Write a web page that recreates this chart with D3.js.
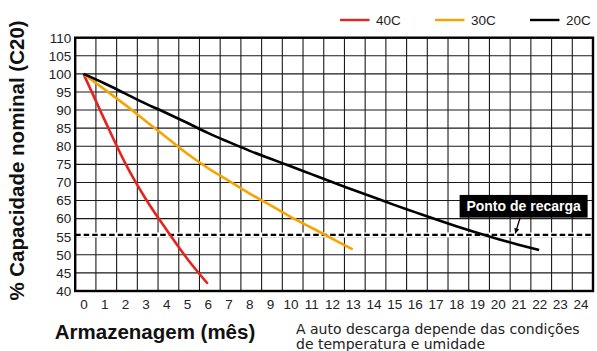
<!DOCTYPE html>
<html><head><meta charset="utf-8">
<script src="https://cdn.jsdelivr.net/npm/d3@7"></script>
<style>
html,body{margin:0;padding:0;background:#fff;}
svg{display:block;}
</style></head>
<body>
<svg id="chart" width="597" height="351"></svg>
<script>
// ---- data ----
const months = d3.range(0, 25);                 // x tick labels 0..24
const yTicks = d3.range(40, 111, 5);            // 40..110
const series = ["40C", "30C", "20C"];
const colors = ["#e52420", "#f8a300", "#000000"];
const months40 = [0, 1, 2, 3, 4, 5, 6];
const values40 = [100, 87.5, 75.5, 65.5, 57, 49, 42];
const months30 = [0, 1, 2, 3, 4, 5, 6, 7, 8, 9, 10, 11, 12, 13];
const values30 = [100, 95.8, 91.5, 87, 82.5, 78, 74, 70.5, 67, 63.8, 60.5, 57.5, 54.5, 51.5];
const months20 = [0, 1, 2, 3, 4, 5, 6, 7, 8, 9, 10, 11, 12, 13, 14, 15, 16, 17, 18, 19, 20, 21, 22];
const values20 = [100, 97.4, 94.6, 91.8, 89.2, 86.5, 83.7, 81.2, 78.8, 76.6, 74.5, 72.3, 70.1, 68.0, 65.9, 63.8, 61.8, 59.8, 57.9, 56.1, 54.4, 52.8, 51.3];
const rechargeLevel = 55.5;
const rechargeLabel = "Ponto de recarga";
const yTitle = "% Capacidade nominal (C20)";
const xTitle = "Armazenagem (mês)";
const noteLines = ["A auto descarga depende das condições", "de temperatura e umidade"];

// ---- layout ----
const svg = d3.select("#chart");
const L = 75.2, R = 593, T = 37.7, B = 291;
const x = d3.scaleLinear().domain([-0.4, 24.6]).range([L, R]);
const y = d3.scaleLinear().domain([40, 110]).range([B, T]);
const FONT = "'Liberation Sans', Arial, sans-serif";

// grid
const g = svg.append("g");
g.selectAll("line.v").data(d3.range(0, 26)).join("line")
  .attr("x1", k => x(-0.4 + k)).attr("x2", k => x(-0.4 + k))
  .attr("y1", T).attr("y2", B).attr("stroke", "#1a1a1a").attr("stroke-width", 1.1);
g.selectAll("line.h").data(yTicks).join("line")
  .attr("x1", L).attr("x2", R).attr("y1", d => y(d)).attr("y2", d => y(d))
  .attr("stroke", "#1a1a1a").attr("stroke-width", 1.1);

// recharge dashed line
svg.append("line").attr("x1", L).attr("x2", R).attr("y1", y(rechargeLevel)).attr("y2", y(rechargeLevel))
  .attr("stroke", "#fff").attr("stroke-width", 5);
svg.append("line").attr("x1", L).attr("x2", R).attr("y1", y(rechargeLevel)).attr("y2", y(rechargeLevel))
  .attr("stroke", "#000").attr("stroke-width", 2.2).attr("stroke-dasharray", "5.5,3");

// curves
const line = d3.line().x(d => x(d[0])).y(d => y(d[1])).curve(d3.curveMonotoneX);
const data = [
  d3.zip(months40, values40),
  d3.zip(months30, values30),
  d3.zip(months20, values20)
];
svg.selectAll("path.s").data(data).join("path")
  .attr("d", line).attr("fill", "none")
  .attr("stroke", (d, i) => colors[i]).attr("stroke-width", 2.6)
  .attr("stroke-linecap", "butt").attr("stroke-linejoin", "round");

// frame
svg.append("rect").attr("x", L).attr("y", T).attr("width", R - L).attr("height", B - T)
  .attr("fill", "none").attr("stroke", "#000").attr("stroke-width", 2.4);

// axes labels
const xAxis = d3.axisBottom(x).tickValues(months).tickSize(0).tickPadding(8).tickFormat(d3.format("d"));
const xa = svg.append("g").attr("transform", `translate(0,${B})`).call(xAxis);
xa.select(".domain").remove();
xa.selectAll("text").attr("font-family", FONT).attr("font-size", 13.5).attr("fill", "#222");

const yAxis = d3.axisLeft(y).tickValues(yTicks).tickSize(0).tickPadding(4);
const ya = svg.append("g").attr("transform", `translate(${L},0)`).call(yAxis);
ya.select(".domain").remove();
ya.selectAll("text").attr("font-family", FONT).attr("font-size", 13.5).attr("fill", "#222");

// titles
svg.append("text").attr("transform", "translate(23.5,160.5) rotate(-90)")
  .attr("text-anchor", "middle").attr("font-family", FONT).attr("font-weight", "bold")
  .attr("font-size", 20.5).attr("fill", "#111").text(yTitle);
svg.append("text").attr("x", 155).attr("y", 339).attr("text-anchor", "middle")
  .attr("font-family", FONT).attr("font-weight", "bold").attr("font-size", 20.5).attr("fill", "#111").text(xTitle);

// note
svg.append("g").selectAll("text").data(noteLines).join("text")
  .attr("x", 296).attr("y", (d, i) => 334 + i * 14.6)
  .attr("font-family", "'DejaVu Sans', sans-serif").attr("font-size", 14).attr("fill", "#222")
  .text(d => d);

// legend
const legX = [340, 435, 530];
const leg = svg.append("g").selectAll("g").data(series).join("g")
  .attr("transform", (d, i) => `translate(${legX[i]},20)`);
leg.append("line").attr("x1", 0).attr("x2", 29.5).attr("y1", 0).attr("y2", 0)
  .attr("stroke", (d, i) => colors[i]).attr("stroke-width", 2.4);
leg.append("text").attr("x", 36).attr("y", 4.8).attr("font-family", FONT).attr("font-size", 13.5)
  .attr("fill", "#222").text(d => d);

// recharge annotation
const boxCx = x(21.25), boxCy = y(63.4);
svg.append("rect").attr("x", boxCx - 64).attr("y", boxCy - 11.4).attr("width", 128).attr("height", 22.7).attr("fill", "#000");
svg.append("text").attr("x", boxCx).attr("y", boxCy + 4.8).attr("text-anchor", "middle")
  .attr("font-family", FONT).attr("font-weight", "bold").attr("font-size", 14).attr("fill", "#fff").text(rechargeLabel);
const tip = [x(20.85), y(rechargeLevel) - 1.5];
const tail = [boxCx - 3.5, boxCy + 11.4];
svg.append("line").attr("x1", tail[0]).attr("y1", tail[1]).attr("x2", tip[0]).attr("y2", tip[1])
  .attr("stroke", "#000").attr("stroke-width", 1.3);
const ang = Math.atan2(tip[1] - tail[1], tip[0] - tail[0]);
const ah = 5, aw = 2.6;
const p1 = [tip[0] - ah * Math.cos(ang) + aw * Math.sin(ang), tip[1] - ah * Math.sin(ang) - aw * Math.cos(ang)];
const p2 = [tip[0] - ah * Math.cos(ang) - aw * Math.sin(ang), tip[1] - ah * Math.sin(ang) + aw * Math.cos(ang)];
svg.append("path").attr("d", `M${tip[0]},${tip[1]}L${p1[0]},${p1[1]}L${p2[0]},${p2[1]}Z`).attr("fill", "#000");
</script>
</body></html>
